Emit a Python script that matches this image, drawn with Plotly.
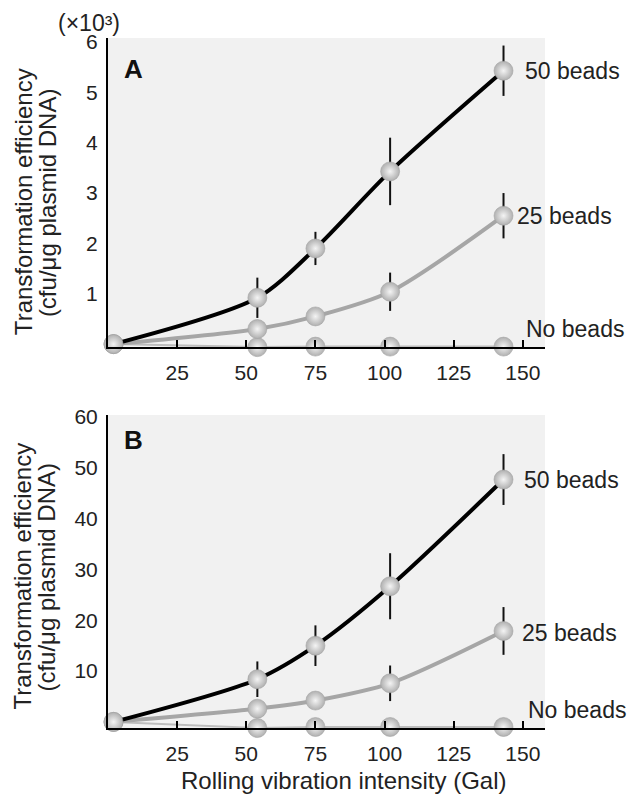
import plotly.graph_objects as go

# ---- data ----
x_gal = [2, 54, 75, 102, 143]

a_50 = [0, 0.92, 1.9, 3.43, 5.43]
a_50_err = [0, 0.4, 0.33, 0.67, 0.5]
a_25 = [0, 0.3, 0.55, 1.04, 2.55]
a_25_err = [0, 0, 0, 0.38, 0.45]
a_0 = [0, -0.06, -0.05, -0.05, -0.05]

b_50 = [0, 8.4, 15, 26.7, 47.7]
b_50_err = [0, 3.5, 4, 6.5, 5]
b_25 = [0, 2.6, 4.2, 7.6, 17.9]
b_25_err = [0, 0, 0, 3.5, 4.7]
b_0 = [0, -1.2, -1.0, -1.0, -1.0]

x_ticks = [25, 50, 75, 100, 125, 150]
a_ticks = [1, 2, 3, 4, 5, 6]
b_ticks = [10, 20, 30, 40, 50, 60]

series_names = ["No beads", "25 beads", "50 beads"]

FONT = "Liberation Sans, Arial, Helvetica, sans-serif"

fig = go.Figure()

marker = dict(size=19, color="#b0b0b0",
              gradient=dict(type="radial", color="#f4f4f4"),
              line=dict(width=0.6, color="#a4a4a4"))


def add_panel(xa, ya, y0, y25, e25, y50, e50):
    fig.add_trace(go.Scatter(x=x_gal, y=y0, xaxis=xa, yaxis=ya, mode="lines+markers",
                             line=dict(color="#bdbdbd", width=2), marker=marker,
                             cliponaxis=False, showlegend=False, name=series_names[0]))
    fig.add_trace(go.Scatter(x=x_gal, y=y25, xaxis=xa, yaxis=ya, mode="lines+markers",
                             line=dict(color="#a6a6a6", width=4, shape="spline", smoothing=0.8),
                             marker=marker,
                             error_y=dict(type="data", array=e25, visible=True, width=0,
                                          thickness=2, color="#111111"),
                             cliponaxis=False, showlegend=False, name=series_names[1]))
    fig.add_trace(go.Scatter(x=x_gal, y=y50, xaxis=xa, yaxis=ya, mode="lines+markers",
                             line=dict(color="#000000", width=4, shape="spline", smoothing=0.8),
                             marker=marker,
                             error_y=dict(type="data", array=e50, visible=True, width=0,
                                          thickness=2, color="#111111"),
                             cliponaxis=False, showlegend=False, name=series_names[2]))


add_panel("x", "y", a_0, a_25, a_25_err, a_50, a_50_err)
add_panel("x2", "y2", b_0, b_25, b_25_err, b_50, b_50_err)

xcommon = dict(range=[0, 158], tickvals=x_ticks, ticks="inside", ticklen=7, tickwidth=2,
               tickcolor="black", showline=True, linecolor="black", linewidth=2,
               showgrid=False, zeroline=False, ticklabelstandoff=6,
               tickfont=dict(family=FONT, size=21, color="#222"))
ycommon = dict(showline=True, linecolor="black", linewidth=2, showgrid=False,
               zeroline=False, ticks="", ticklabelstandoff=4,
               tickfont=dict(family=FONT, size=21, color="#222"))

# the page body has an 8px margin, so the figure is 8px smaller than the window
fig.update_layout(
    width=630, height=789,
    margin=dict(l=100, r=93, t=30, b=69),
    paper_bgcolor="white", plot_bgcolor="#f1f1f1",
    font=dict(family=FONT, color="#222"),
    xaxis=dict(domain=[0, 1], anchor="y", **xcommon),
    yaxis=dict(domain=[0.552, 1], anchor="x", range=[-0.06, 6.08], tickvals=a_ticks, **ycommon),
    xaxis2=dict(domain=[0, 1], anchor="y2", **xcommon),
    yaxis2=dict(domain=[0, 0.4536], anchor="x2", range=[-1.2, 60.4], tickvals=b_ticks, **ycommon),
)

ann = []
lab = dict(family=FONT, size=24, color="#222")
slab = dict(family=FONT, size=23, color="#222")
# series labels
for (xr, yr, xv, yv, t) in [
    ("x", "y", 150, 5.43, "50 beads"), ("x", "y", 147, 2.55, "25 beads"), ("x", "y", 150.5, 0.3, "No beads"),
    ("x2", "y2", 149.6, 47.7, "50 beads"), ("x2", "y2", 149, 17.5, "25 beads"), ("x2", "y2", 151, 2.4, "No beads"),
]:
    ann.append(dict(xref=xr, yref=yr, x=xv, y=yv, text=t, showarrow=False,
                    xanchor="left", yanchor="middle", font=slab))
# panel letters
ann.append(dict(xref="x", yref="y", x=5, y=5.47, text="<b>A</b>", showarrow=False,
                xanchor="left", yanchor="middle", font=dict(family=FONT, size=26, color="#111")))
ann.append(dict(xref="x2", yref="y2", x=5, y=55.5, text="<b>B</b>", showarrow=False,
                xanchor="left", yanchor="middle", font=dict(family=FONT, size=26, color="#111")))
# multiplier
ann.append(dict(xref="paper", yref="paper", x=-0.118, y=1.0, text="(×10³)",
                showarrow=False, xanchor="left", yanchor="bottom",
                font=dict(family=FONT, size=23, color="#222")))
# y titles (two lines each)
for (yr, yc) in [("y", 2.82), ("y2", 28.6)]:
    ann.append(dict(xref="paper", yref=yr, x=-0.1945, y=yc, text="Transformation efficiency",
                    textangle=-90, showarrow=False, xanchor="center", yanchor="middle", font=lab))
    ann.append(dict(xref="paper", yref=yr, x=-0.1396, y=yc, text="(cfu/μg plasmid DNA)",
                    textangle=-90, showarrow=False, xanchor="center", yanchor="middle", font=lab))
# x title
ann.append(dict(xref="paper", yref="paper", x=0.5378, y=-0.0754,
                text="Rolling vibration intensity (Gal)", showarrow=False,
                xanchor="center", yanchor="middle", font=lab))
fig.update_layout(annotations=ann)

fig.write_html("out.html")
